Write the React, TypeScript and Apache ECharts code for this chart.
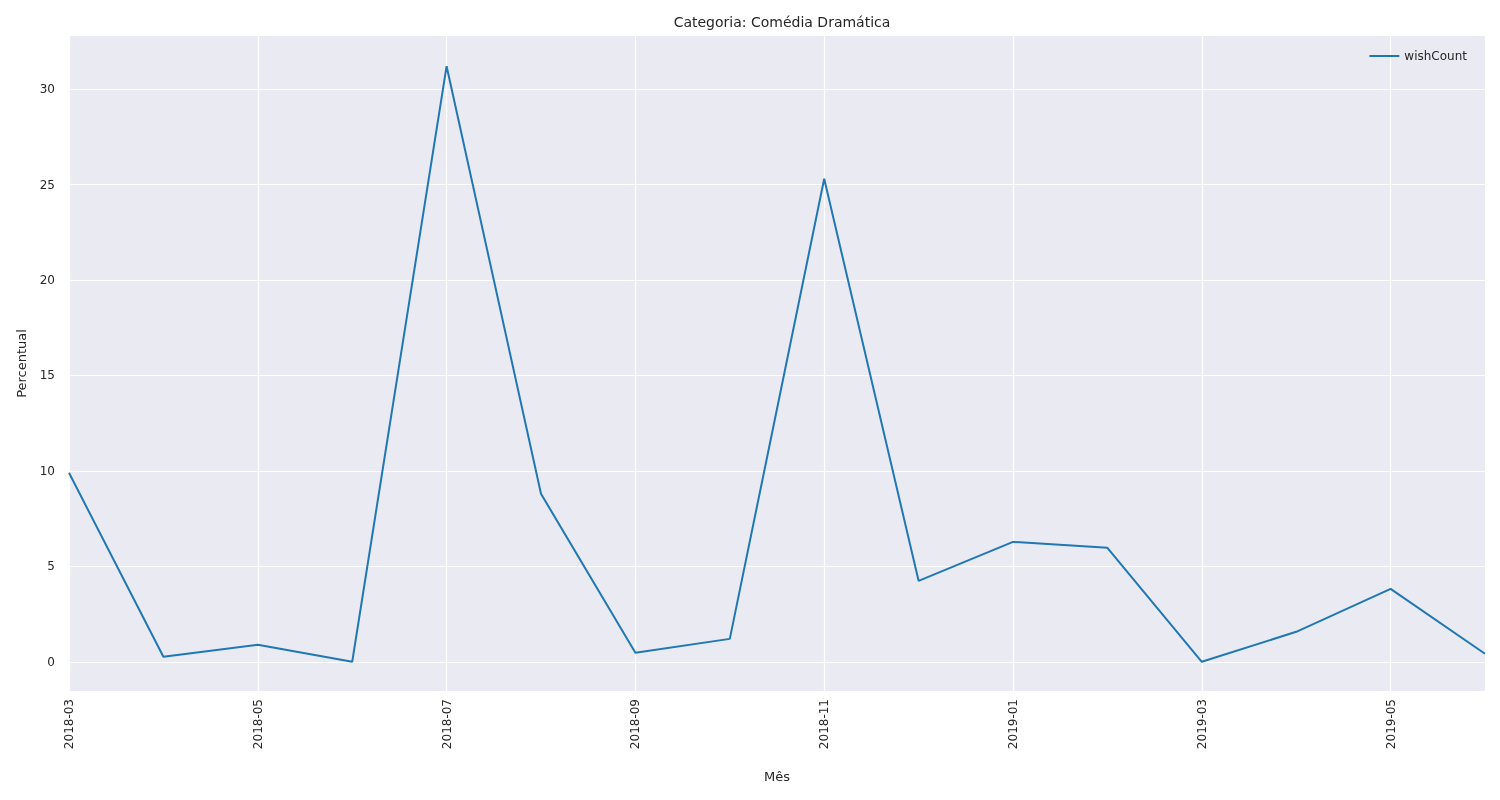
import React, { useEffect, useRef } from 'react';
import * as echarts from 'echarts';

const months = [
  '2018-03', '2018-04', '2018-05', '2018-06', '2018-07', '2018-08', '2018-09', '2018-10',
  '2018-11', '2018-12', '2019-01', '2019-02', '2019-03', '2019-04', '2019-05', '2019-06',
];
const wishCount = [9.9, 0.26, 0.89, 0, 31.2, 8.8, 0.47, 1.2, 25.3, 4.24, 6.28, 5.97, 0, 1.57, 3.82, 0.42];
const yTicks = [0, 5, 10, 15, 20, 25, 30];

const font = 'DejaVu Sans';

export default function App() {
  const chartRef = useRef<HTMLDivElement>(null);

  useEffect(() => {
    if (!chartRef.current) return;
    const chart = echarts.init(chartRef.current, null, { renderer: 'svg' });
    chart.setOption({
      animation: false,
      textStyle: { fontFamily: font, color: '#262626' },
      title: {
        text: 'Categoria: Comédia Dramática',
        left: 777,
        top: 10,
        textAlign: 'center',
        textStyle: { fontFamily: font, fontSize: 14, fontWeight: 'normal', color: '#262626' },
      },
      legend: {
        right: 28,
        top: 45,
        itemWidth: 30,
        itemHeight: 2,
        icon: 'rect',
        textStyle: { fontFamily: font, fontSize: 12, color: '#262626' },
        data: ['wishCount'],
      },
      grid: { left: 69, right: 15, top: 36, bottom: 109, backgroundColor: '#eaeaf2', show: true, borderWidth: 0 },
      xAxis: {
        type: 'category',
        data: months,
        boundaryGap: false,
        name: 'Mês',
        nameLocation: 'middle',
        nameGap: 79,
        nameTextStyle: { fontFamily: font, fontSize: 13, color: '#262626' },
        axisLine: { show: false },
        axisTick: { show: false },
        axisLabel: { interval: 1, rotate: 90, fontSize: 12, color: '#262626', fontFamily: font },
        splitLine: { show: true, interval: 1, lineStyle: { color: '#ffffff', width: 1.2 } },
      },
      yAxis: {
        type: 'value',
        min: -1.53,
        max: 32.78,
        name: 'Percentual',
        nameLocation: 'middle',
        nameGap: 41,
        nameTextStyle: { fontFamily: font, fontSize: 13, color: '#262626' },
        axisLine: { show: false },
        axisTick: { show: false, customValues: yTicks },
        axisLabel: { customValues: yTicks, fontSize: 12, color: '#262626', fontFamily: font, margin: 14 },
        splitLine: { show: true, lineStyle: { color: '#ffffff', width: 1.2 } },
      },
      series: [
        {
          name: 'wishCount',
          type: 'line',
          data: wishCount,
          symbol: 'none',
          lineStyle: { color: '#1f77b4', width: 2 },
          itemStyle: { color: '#1f77b4' },
        },
      ],
    });
    return () => chart.dispose();
  }, []);

  return <div ref={chartRef} style={{ position: 'fixed', left: 0, top: 0, width: 1500, height: 800 }} />;
}
